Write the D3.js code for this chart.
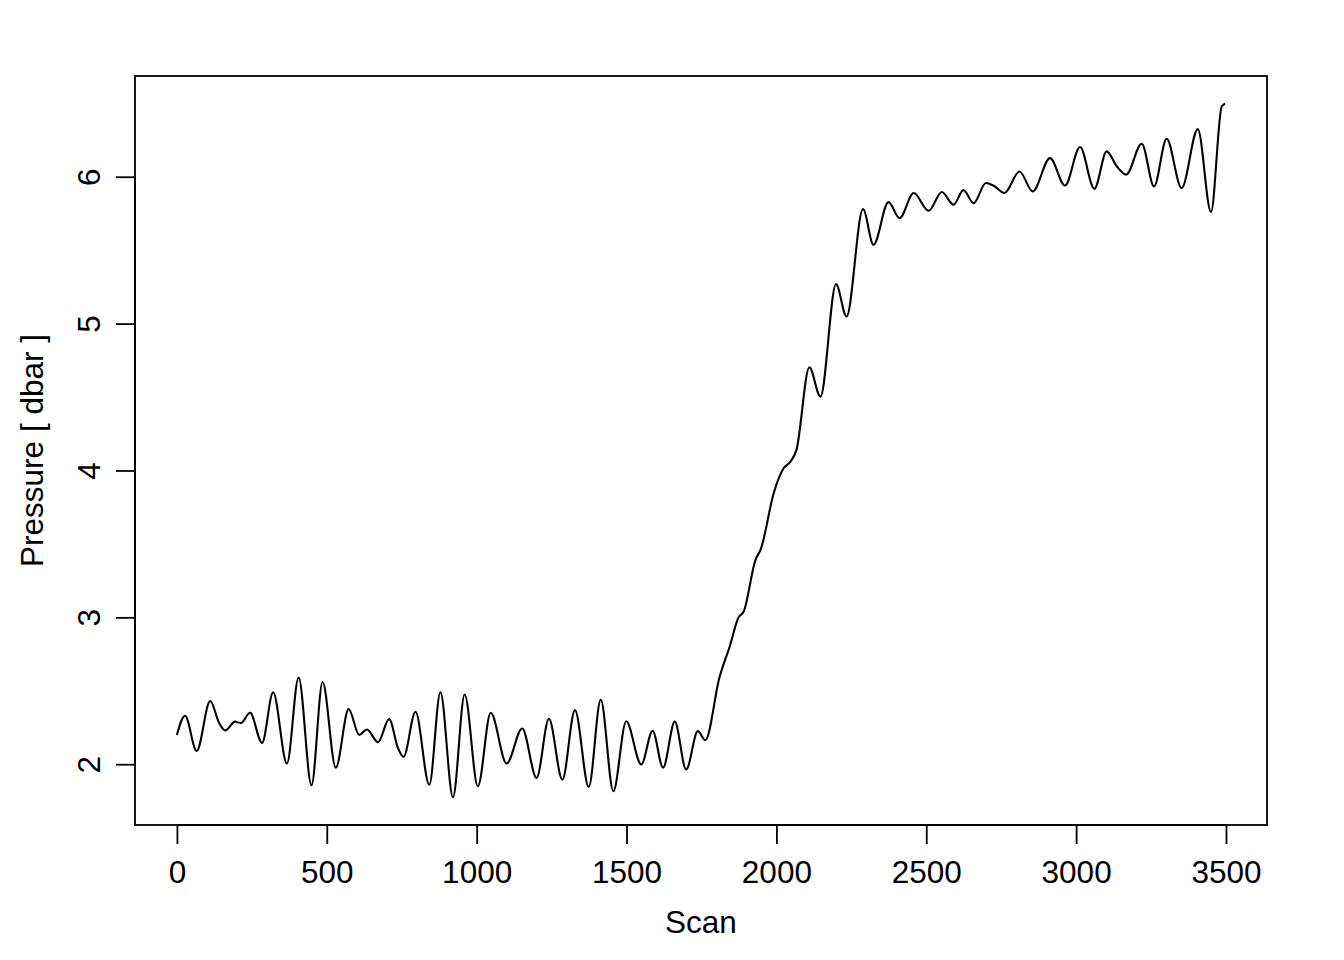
<!DOCTYPE html>
<html>
<head>
<meta charset="utf-8">
<script src="https://cdn.jsdelivr.net/npm/d3@7"></script>
<style>
    body { margin: 0; background: #ffffff; }
    svg text { font-family: "Liberation Sans", Arial, Helvetica, sans-serif; fill: #000; }
</style>
</head>
<body>
<div id="chart"></div>
<script>
// turning points of the pressure trace
var scans = [0, 27, 66, 111, 141, 161, 194, 213, 244, 284, 321, 367, 406, 449, 486, 530, 573, 608, 634, 671,
    708, 738, 756, 796, 842, 879, 921, 960, 1004, 1047, 1100, 1152, 1200, 1241, 1286, 1328, 1374, 1414, 1456, 1499,
    1549, 1587, 1622, 1661, 1699, 1738, 1763, 1810, 1844, 1874, 1891, 1930, 1949, 1991, 2024, 2047, 2067, 2110, 2147, 2199,
    2234, 2289, 2324, 2374, 2411, 2458, 2508, 2552, 2591, 2624, 2658, 2699, 2724, 2761, 2811, 2855, 2913, 2963, 3013, 3061,
    3102, 3136, 3167, 3219, 3260, 3302, 3352, 3406, 3450, 3486, 3497];

var pressures = [2.20, 2.33, 2.09, 2.43, 2.28, 2.23, 2.29, 2.28, 2.35, 2.145, 2.49, 2.005, 2.59, 1.857, 2.56, 1.977, 2.375, 2.20, 2.236, 2.15,
    2.307, 2.107, 2.05, 2.357, 1.86, 2.49, 1.775, 2.475, 1.85, 2.35, 2.005, 2.243, 1.907, 2.31, 1.895, 2.368, 1.845, 2.44, 1.816, 2.293,
    1.998, 2.227, 1.977, 2.29, 1.964, 2.225, 2.164, 2.59, 2.80, 3.00, 3.04, 3.39, 3.47, 3.845, 4.015, 4.06, 4.14, 4.703, 4.503, 5.269,
    5.048, 5.78, 5.537, 5.827, 5.718, 5.889, 5.768, 5.896, 5.81, 5.909, 5.82, 5.957, 5.94, 5.889, 6.036, 5.90, 6.127, 5.94, 6.202, 5.918,
    6.173, 6.07, 6.014, 6.225, 5.934, 6.259, 5.923, 6.324, 5.76, 6.48, 6.497];

var xTicks = [0, 500, 1000, 1500, 2000, 2500, 3000, 3500];
var yTicks = [2, 3, 4, 5, 6];

var xTitle = "Scan";
var yTitle = "Pressure [ dbar ]";

var data = scans.map(function(s, i){ return {x: s, y: pressures[i]}; });

var totalWidth = 1344, totalHeight = 960;
var margin = {top: 76, right: 77, bottom: 135, left: 135},
    width = totalWidth - margin.left - margin.right,
    height = totalHeight - margin.top - margin.bottom;

var fontSize = 31.5;
var tickLen = 19;

// R style 4% padding around the data range
function padded(ext){
    var d = (ext[1] - ext[0]) * 0.04;
    return [ext[0] - d, ext[1] + d];
}

var x = d3.scaleLinear()
    .domain(padded(d3.extent(data, function(d){ return d.x; })))
    .range([0, width]);

var y = d3.scaleLinear()
    .domain(padded(d3.extent(data, function(d){ return d.y; })))
    .range([height, 0]);

var svg = d3.select("#chart").append("svg")
    .attr("width", totalWidth)
    .attr("height", totalHeight);

var g = svg.append("g")
    .attr("transform", "translate(" + margin.left + "," + margin.top + ")");

// the trace
var line = d3.line()
    .x(function(d){ return x(d.x); })
    .y(function(d){ return y(d.y); })
    .curve(d3.curveMonotoneX);

g.append("path")
    .datum(data)
    .attr("fill", "none")
    .attr("stroke", "#000")
    .attr("stroke-width", 2.1)
    .attr("stroke-linejoin", "round")
    .attr("d", line);

// box around plot region
g.append("rect")
    .attr("x", 0)
    .attr("y", 0)
    .attr("width", width)
    .attr("height", height)
    .attr("fill", "none")
    .attr("stroke", "#000")
    .attr("stroke-width", 1.8);

// x axis
var xAxis = d3.axisBottom(x)
    .tickValues(xTicks)
    .tickSize(tickLen)
    .tickPadding(0)
    .tickFormat(d3.format("d"));

var xg = g.append("g")
    .attr("transform", "translate(0," + height + ")")
    .call(xAxis);
xg.select(".domain")
    .attr("d", "M" + x(xTicks[0]) + ",0H" + x(xTicks[xTicks.length - 1]))
    .attr("stroke-width", 1.8);
xg.selectAll(".tick line").attr("stroke-width", 1.8);
xg.selectAll(".tick text")
    .attr("y", 58)
    .attr("dy", 0)
    .style("font-size", fontSize + "px")
    .style("font-family", null);

// y axis
var yAxis = d3.axisLeft(y)
    .tickValues(yTicks)
    .tickSize(tickLen)
    .tickFormat(d3.format("d"));

var yg = g.append("g").call(yAxis);
yg.select(".domain")
    .attr("d", "M0," + y(yTicks[0]) + "V" + y(yTicks[yTicks.length - 1]))
    .attr("stroke-width", 1.8);
yg.selectAll(".tick line").attr("stroke-width", 1.8);
yg.selectAll(".tick text")
    .attr("x", null)
    .attr("dy", 0)
    .attr("text-anchor", "middle")
    .attr("transform", "translate(-35,0) rotate(-90)")
    .style("font-size", fontSize + "px")
    .style("font-family", null);

// axis titles
svg.append("text")
    .attr("x", margin.left + width / 2)
    .attr("y", 933)
    .attr("text-anchor", "middle")
    .style("font-size", fontSize + "px")
    .text(xTitle);

svg.append("text")
    .attr("transform", "translate(43," + (margin.top + height / 2) + ") rotate(-90)")
    .attr("text-anchor", "middle")
    .style("font-size", fontSize + "px")
    .text(yTitle);
</script>
</body>
</html>
